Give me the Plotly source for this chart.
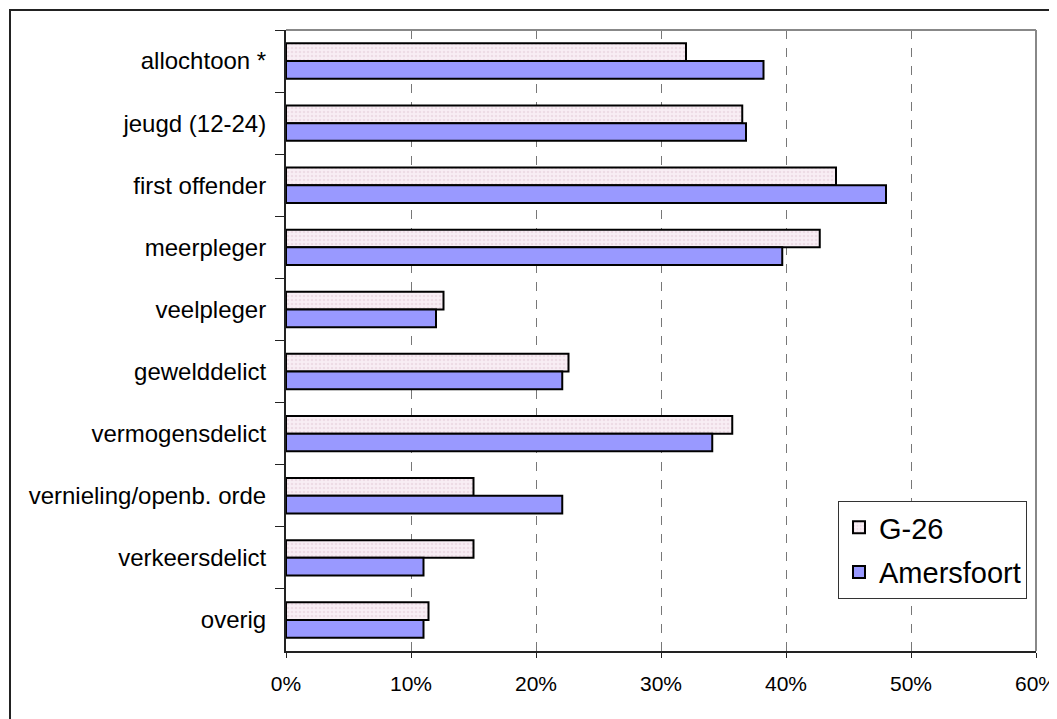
import plotly.graph_objects as go

categories = ["allochtoon *", "jeugd (12-24)", "first offender", "meerpleger", "veelpleger",
              "gewelddelict", "vermogensdelict", "vernieling/openb. orde", "verkeersdelict", "overig"]
g26 = [0.320, 0.365, 0.440, 0.427, 0.126, 0.226, 0.357, 0.150, 0.150, 0.114]
amersfoort = [0.382, 0.368, 0.480, 0.397, 0.120, 0.221, 0.341, 0.221, 0.110, 0.110]
x_ticks = [0, 0.1, 0.2, 0.3, 0.4, 0.5, 0.6]
x_tick_labels = ["0%", "10%", "20%", "30%", "40%", "50%", "60%"]

FONT = "Arial, Liberation Sans, sans-serif"

# page body has an 8px margin; figure is sized/offset to compensate
W, H = 1057, 711
L, T, R, B = 278, 22, 29, 68
PW, PH = W - L - R, H - T - B

fig = go.Figure()
fig.add_trace(go.Bar(
    name="G-26", y=categories, x=g26, orientation="h", legendgroup="a",
    marker=dict(color="#F7ECF2",
                pattern=dict(shape=".", bgcolor="#F8EEF4", fgcolor="#E2C9D6", size=4, solidity=0.35),
                line=dict(color="#000000", width=2)),
))
fig.add_trace(go.Bar(
    name="Amersfoort", y=categories, x=amersfoort, orientation="h", legendgroup="b",
    marker=dict(color="#9999FF", line=dict(color="#000000", width=2)),
))

fig.update_layout(
    width=W, height=H,
    margin=dict(l=L, r=R, t=T, b=B, autoexpand=False),
    paper_bgcolor="white", plot_bgcolor="white",
    barmode="group", bargap=0.43, bargroupgap=0.0,
    font=dict(family=FONT, size=22, color="#000000"),
    showlegend=True,
    legend=dict(x=(830 - L) / PW, y=(H - B - 493) / PH, xanchor="left", yanchor="top",
                bordercolor="#333333", borderwidth=1, bgcolor="white",
                font=dict(size=29, family=FONT), traceorder="grouped", tracegroupgap=4),
    xaxis=dict(range=[0, 0.6], tickvals=x_ticks, ticktext=x_tick_labels,
               showgrid=True, gridcolor="#777777", griddash="dash", gridwidth=1,
               showline=True, linecolor="#222222", linewidth=2,
               ticks="outside", ticklen=5, tickcolor="#222222", zeroline=False,
               tickfont=dict(size=21), ticklabelstandoff=8, ticklabeloverflow="allow"),
    yaxis=dict(autorange="reversed", showline=True, linecolor="#222222", linewidth=2,
               ticks="outside", ticklen=9, tickcolor="#222222", tickson="boundaries",
               showgrid=False, tickfont=dict(size=24), ticklabelstandoff=13),
)

# plot area border (top and right, gray)
fig.add_shape(type="line", xref="paper", yref="paper", x0=0, x1=1, y0=1, y1=1,
              line=dict(color="#888888", width=2))
fig.add_shape(type="line", xref="paper", yref="paper", x0=1, x1=1, y0=0, y1=1,
              line=dict(color="#888888", width=2))
# outer chart frame (left and top edges visible)
fig.add_shape(type="rect", xref="paper", yref="paper",
              x0=(2 - L) / PW, x1=(W + 30 - L) / PW,
              y0=-(B + 30) / PH, y1=(H - B - 2) / PH,
              line=dict(color="#222222", width=2), layer="below")

fig.write_html("out.html")
